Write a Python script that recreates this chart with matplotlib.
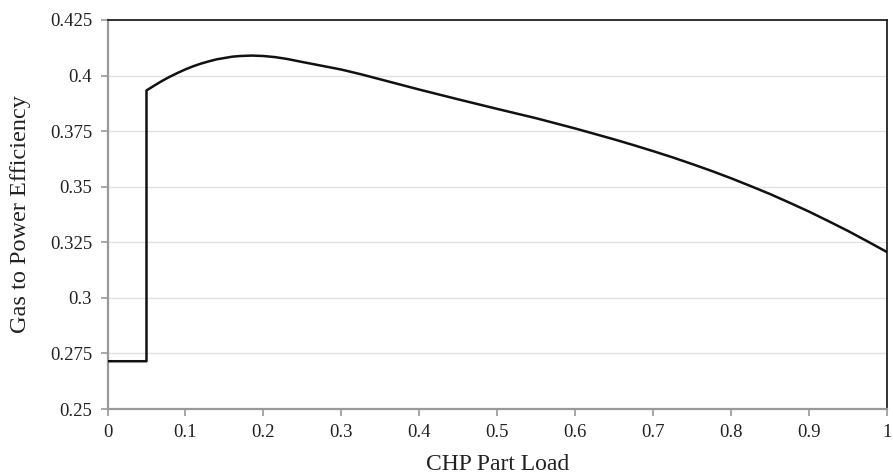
import matplotlib.pyplot as plt
import numpy as np

# CHP gas-to-power efficiency vs. part load
part_load = [0.0, 0.05, 0.05, 0.06, 0.07, 0.08, 0.09, 0.1, 0.11, 0.12, 0.13,
             0.14, 0.15, 0.16, 0.17, 0.185, 0.2, 0.215, 0.23, 0.25, 0.275,
             0.3, 0.325, 0.35, 0.4, 0.45, 0.5, 0.55, 0.6, 0.65, 0.675, 0.7,
             0.725, 0.75, 0.775, 0.8, 0.825, 0.85, 0.875, 0.9, 0.925, 0.95,
             0.975, 1.0]
efficiency = [0.2715, 0.2715, 0.3933, 0.3955, 0.3976, 0.3995, 0.4012, 0.4028,
              0.4042, 0.4054, 0.4064, 0.4073, 0.4079, 0.4085, 0.4088, 0.4090,
              0.4088, 0.4083, 0.4075, 0.4061, 0.4044, 0.4027, 0.4006, 0.3983,
              0.3937, 0.3893, 0.3850, 0.3808, 0.3762, 0.3713, 0.3687, 0.3660,
              0.3632, 0.3602, 0.3571, 0.3538, 0.3503, 0.3467, 0.3428, 0.3388,
              0.3345, 0.3301, 0.3254, 0.3206]

x_ticks = np.round(np.arange(0, 1.01, 0.1), 1)
x_tick_labels = ['0'] + [f'{v:g}' for v in x_ticks[1:-1]] + ['1']
y_ticks = [0.25, 0.275, 0.3, 0.325, 0.35, 0.375, 0.4, 0.425]
y_tick_labels = ['0.25', '0.275', '0.3', '0.325', '0.35', '0.375', '0.4', '0.425']

plt.rcParams['font.family'] = ['Liberation Serif', 'DejaVu Serif']

fig = plt.figure(figsize=(8.93, 4.75), dpi=100)
ax = fig.add_axes([0.1204, 0.1389, 0.8729, 0.8190])

ax.plot(part_load, efficiency, color='#111111', linewidth=1.8,
        solid_joinstyle='round', zorder=3)

ax.set_xlim(0, 1)
ax.set_ylim(0.25, 0.425)
ax.set_xticks(x_ticks)
ax.set_xticklabels(x_tick_labels)
ax.set_yticks(y_ticks)
ax.set_yticklabels(y_tick_labels)

ax.grid(axis='y', color='#e2e2e2', linewidth=1.0, zorder=0)
ax.set_axisbelow(True)

for side in ['left', 'bottom']:
    ax.spines[side].set_color('#999999')
    ax.spines[side].set_linewidth(1.6)
for side in ['top', 'right']:
    ax.spines[side].set_color('#222222')
    ax.spines[side].set_linewidth(1.3)

ax.tick_params(axis='both', direction='out', length=5, width=1.2,
               color='#999999', labelsize=13.5, labelcolor='#222222')
ax.tick_params(axis='x', pad=6)
ax.tick_params(axis='y', pad=6)

ax.set_xlabel('CHP Part Load', fontsize=17, color='#222222', labelpad=9)
ax.set_ylabel('Gas to Power Efficiency', fontsize=17.5, color='#222222', labelpad=14)

fig.savefig('out.png', dpi=100)
